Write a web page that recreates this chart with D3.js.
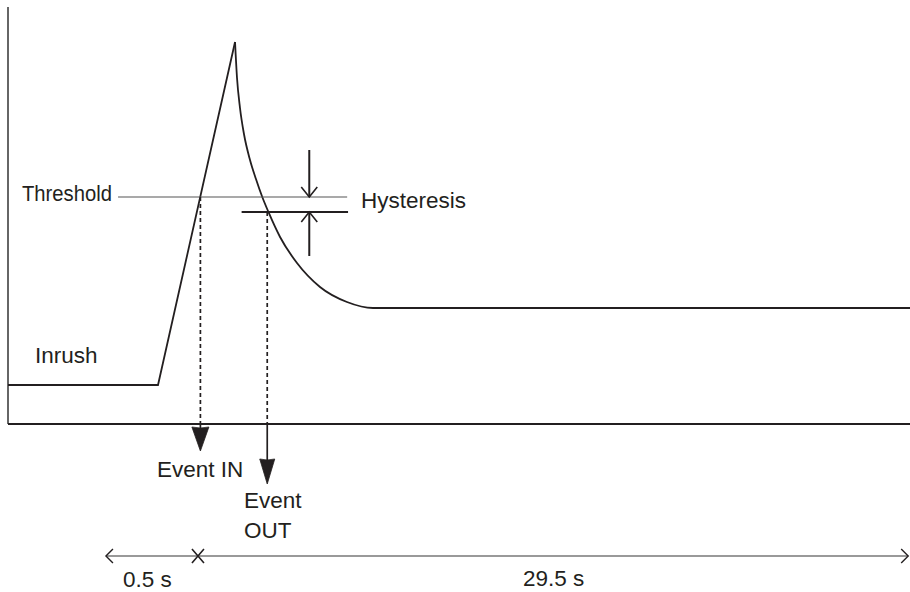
<!DOCTYPE html>
<html>
<head>
<meta charset="utf-8">
<script src="https://cdn.jsdelivr.net/npm/d3@7"></script>
<style>
  html, body { margin: 0; padding: 0; background: #fff; }
  svg { display: block; }
  text { font-family: "Liberation Sans", Arial, Helvetica, sans-serif; fill: #231f20; }
</style>
</head>
<body>
<script>
// ---- data (schematic units: time 0..100, level 0..100) ----
const riseTime   = [0, 16.63, 25.17];
const riseLevel  = [9.31, 9.31, 91.17];
const decayTime  = [25.17, 25.39, 25.72, 26.16, 26.83, 27.49, 28.19, 28.86, 30.16, 32.04, 34.59, 37.58, 40.47, 100];
const decayLevel = [91.17, 82.58, 75.42, 69.21, 63.01, 58.47, 54.18, 50.67, 44.63, 38.42, 32.70, 29.12, 27.68, 27.68];
const thresholdLevel = 54.18;
const hysteresisLevel = 50.6;
const thresholdSpan = [12.2, 37.6];
const hysteresisSpan = [25.9, 37.7];
const hystArrowTime = 33.4;
const hystArrowEnds = [65.4, 40.1];
const eventTimes = [21.33, 28.74];
const eventNames = [["Event IN"], ["Event", "OUT"]];
const rulerMarks = [10.86, 21.06, 99.8];
const rulerLabels = ["0.5 s", "29.5 s"];
const labels = { threshold: "Threshold", hysteresis: "Hysteresis", inrush: "Inrush" };

const W = 910, H = 592;
const x = d3.scaleLinear().domain([0, 100]).range([8, 910]);
const y = d3.scaleLinear().domain([0, 100]).range([424, 5]);

const svg = d3.select("body").append("svg").attr("width", W).attr("height", H);
const ink = "#231f20";
const fs = 22.5;

// axes
svg.append("line").attr("x1", x(0)).attr("x2", x(0)).attr("y1", y(0)).attr("y2", y(99.5))
  .attr("stroke", "#666").attr("stroke-width", 2);
svg.append("line").attr("x1", x(0)).attr("x2", x(100)).attr("y1", y(0)).attr("y2", y(0))
  .attr("stroke", ink).attr("stroke-width", 2);

// signal
const lin = d3.line().x(d => x(d[0])).y(d => y(d[1]));
svg.append("path").datum(d3.zip(riseTime, riseLevel)).attr("d", lin)
  .attr("fill", "none").attr("stroke", ink).attr("stroke-width", 1.8);
svg.append("path").datum(d3.zip(decayTime, decayLevel))
  .attr("d", lin.curve(d3.curveMonotoneX))
  .attr("fill", "none").attr("stroke", ink).attr("stroke-width", 1.8);

// threshold & hysteresis lines
svg.append("line").attr("x1", x(thresholdSpan[0])).attr("x2", x(thresholdSpan[1]))
  .attr("y1", y(thresholdLevel)).attr("y2", y(thresholdLevel))
  .attr("stroke", "#555").attr("stroke-width", 1.1);
svg.append("line").attr("x1", x(hysteresisSpan[0])).attr("x2", x(hysteresisSpan[1]))
  .attr("y1", y(hysteresisLevel)).attr("y2", y(hysteresisLevel))
  .attr("stroke", ink).attr("stroke-width", 2.2);

// hysteresis arrows
const ax = x(hystArrowTime);
function openArrow(x0, yFrom, yTo) {
  const dir = yTo > yFrom ? 1 : -1;
  svg.append("line").attr("x1", x0).attr("x2", x0).attr("y1", yFrom).attr("y2", yTo)
    .attr("stroke", ink).attr("stroke-width", 2);
  svg.append("path")
    .attr("d", `M${x0 - 8},${yTo - dir * 10} L${x0},${yTo} L${x0 + 8},${yTo - dir * 10}`)
    .attr("fill", "none").attr("stroke", ink).attr("stroke-width", 1.6);
}
openArrow(ax, y(hystArrowEnds[0]), y(thresholdLevel));
openArrow(ax, y(hystArrowEnds[1]), y(hysteresisLevel));

// event markers
const eventStart = [thresholdLevel, hysteresisLevel];
const tipY = [451, 484];
const headLen = [24, 25];
const headHalf = [8.5, 7.5];
eventTimes.forEach((t, i) => {
  const ex = x(t);
  svg.append("line").attr("x1", ex).attr("x2", ex).attr("y1", y(eventStart[i])).attr("y2", y(0))
    .attr("stroke", ink).attr("stroke-width", 1.7).attr("stroke-dasharray", "4,3");
  svg.append("line").attr("x1", ex).attr("x2", ex).attr("y1", y(0)).attr("y2", tipY[i] - 4)
    .attr("stroke", ink).attr("stroke-width", 1.7);
  const ty = tipY[i], hl = headLen[i], hh = headHalf[i];
  svg.append("path")
    .attr("d", `M${ex},${ty} L${ex - hh},${ty - hl} Q${ex},${ty - hl + 2} ${ex + hh},${ty - hl} Z`)
    .attr("fill", ink).attr("stroke", ink).attr("stroke-width", 0.8).attr("stroke-linejoin", "round");
});

// labels
svg.append("text").attr("x", 22).attr("y", 201).attr("font-size", fs)
  .attr("textLength", 90).attr("lengthAdjust", "spacingAndGlyphs").text(labels.threshold);
svg.append("text").attr("x", 361).attr("y", 208).attr("font-size", fs).text(labels.hysteresis);
svg.append("text").attr("x", 35).attr("y", 363).attr("font-size", fs).text(labels.inrush);
svg.append("text").attr("x", 157).attr("y", 477).attr("font-size", fs).text(eventNames[0][0]);
const outText = svg.append("text").attr("x", 244).attr("y", 508).attr("font-size", fs);
eventNames[1].forEach((s, i) => outText.append("tspan").attr("x", 244).attr("dy", i ? 30 : 0).text(s));

// time ruler
const ry = 556;
svg.append("line").attr("x1", x(rulerMarks[0])).attr("x2", x(rulerMarks[2])).attr("y1", ry).attr("y2", ry)
  .attr("stroke", "#777").attr("stroke-width", 1.6);
const lx = x(rulerMarks[0]), mx = x(rulerMarks[1]), rx = x(rulerMarks[2]);
svg.append("path").attr("d", `M${lx + 7},${ry - 7} L${lx},${ry} L${lx + 7},${ry + 7}`)
  .attr("fill", "none").attr("stroke", ink).attr("stroke-width", 1.4);
svg.append("path").attr("d", `M${rx - 7},${ry - 7} L${rx},${ry} L${rx - 7},${ry + 7}`)
  .attr("fill", "none").attr("stroke", ink).attr("stroke-width", 1.4);
svg.append("path").attr("d", `M${mx - 6},${ry - 7} L${mx + 6},${ry + 7} M${mx + 6},${ry - 7} L${mx - 6},${ry + 7}`)
  .attr("fill", "none").attr("stroke", ink).attr("stroke-width", 1.6);
svg.append("text").attr("x", 123).attr("y", 587).attr("font-size", fs).text(rulerLabels[0]);
svg.append("text").attr("x", 523).attr("y", 586).attr("font-size", fs).text(rulerLabels[1]);
</script>
</body>
</html>
